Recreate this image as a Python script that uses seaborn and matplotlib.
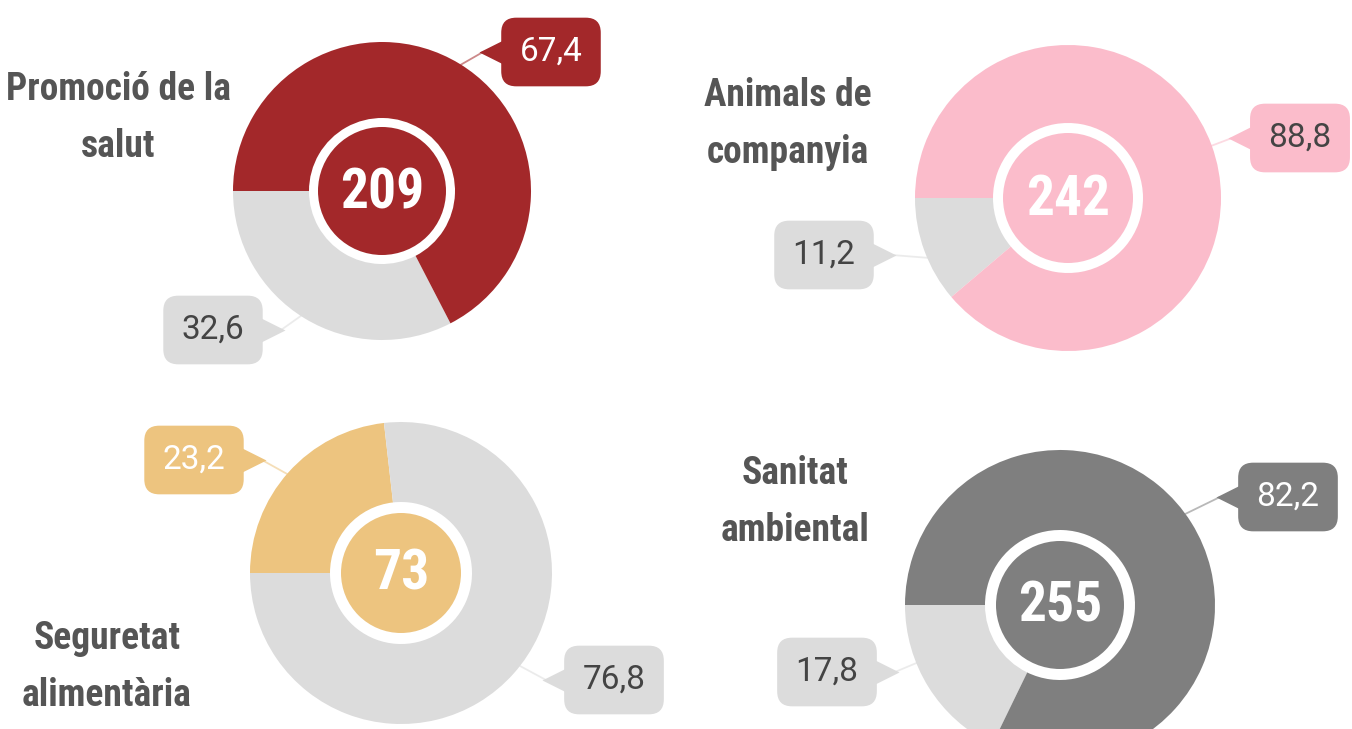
import numpy as np
import seaborn as sns
import matplotlib as mpl
mpl.use("Agg")
import matplotlib.pyplot as plt

# data
titles = ["Promoció de la\nsalut", "Animals de\ncompanyia", "Seguretat\nalimentària", "Sanitat\nambiental"]
totals = [209, 242, 73, 255]
main_share = [67.4, 88.8, 23.2, 82.2]
rest_share = [32.6, 11.2, 76.8, 17.8]
main_colors = ["#a3282a", "#fbbccb", "#edc47f", "#7f7f7f"]
rest_color = "#dcdcdc"
main_txt = ["white", "#444444", "white", "white"]

sns.set_theme(style="white")
cond = ["Roboto Condensed", "Liberation Sans Narrow", "DejaVu Sans"]
plain = ["Roboto", "Liberation Sans", "DejaVu Sans"]

W, H = 1352, 729
fig = plt.figure(figsize=(W / 100, H / 100), dpi=100)
ax = fig.add_axes([0, 0, 1, 1])

# layout (pixel space, y from top)
centers = [(382, 191), (1068, 198), (401, 573), (1060, 605)]
radii = [149, 153, 151, 155]
holes = [73, 75, 71, 75]
cores = [64, 65, 60, 64]
title_pos = [(118, 118), (788, 124), (107, 667), (795, 502)]
# callouts: (box center, side of pointer, angle on donut) for main / rest
main_call = [((551, 52), "left", 58), ((1300, 138), "left", 20), ((194, 460), "right", 139), ((1288, 497), "left", 36)]
rest_call = [((213, 330), "right", 237), ((824, 255), "right", 203), ((614, 680), "left", -38), ((827, 672), "right", 202)]


def y(v):
    return H - v


def callout(pos, side, ang, c, r, text, fc, tc):
    bx, by = pos
    half = 52
    tip_x = bx - half - 16 if side == "left" else bx + half + 16
    ax.text(bx, y(by), text, ha="center", va="center", fontsize=24, color=tc,
            family=plain, zorder=5,
            bbox=dict(boxstyle="round,pad=0.55,rounding_size=0.45", fc=fc, ec="none"))
    mk = "<" if side == "left" else ">"
    ax.plot(tip_x + (8 if side == "left" else -8), y(by), marker=mk, ms=17, color=fc,
            mec="none", zorder=4)
    ex = c[0] + r * np.cos(np.radians(ang))
    ey = y(c[1]) + r * np.sin(np.radians(ang))
    ax.plot([ex, tip_x], [ey, y(by)], color=fc, alpha=0.55, lw=1.3, zorder=3)


for i in range(4):
    cx, cy = centers[i]
    R = radii[i]
    if i == 2:
        vals = [main_share[i], rest_share[i]]
        cols = [main_colors[i], rest_color]
        ccw = False
    else:
        vals = [rest_share[i], main_share[i]]
        cols = [rest_color, main_colors[i]]
        ccw = True
    ax.pie(vals, colors=cols, startangle=180, counterclock=ccw, radius=R,
           center=(cx, y(cy)), wedgeprops=dict(width=R - holes[i], linewidth=0))
    ax.add_patch(plt.Circle((cx, y(cy)), cores[i], color=main_colors[i], lw=0, zorder=2))
    ax.text(cx, y(cy) - 2, str(totals[i]), ha="center", va="center", fontsize=40,
            fontweight="bold", color="white", family=cond, zorder=3)
    tx, ty = title_pos[i]
    ax.text(tx, y(ty), titles[i], ha="center", va="center", fontsize=27,
            fontweight="bold", color="#555555", family=cond, linespacing=1.7)
    callout(*main_call[i], (cx, cy), R, f"{main_share[i]:.1f}".replace(".", ","),
            main_colors[i], main_txt[i])
    callout(*rest_call[i], (cx, cy), R, f"{rest_share[i]:.1f}".replace(".", ","),
            rest_color, "#444444")

ax.set_xlim(0, W)
ax.set_ylim(0, H)
ax.set_aspect("equal")
ax.axis("off")
fig.savefig("out.png", dpi=100)
